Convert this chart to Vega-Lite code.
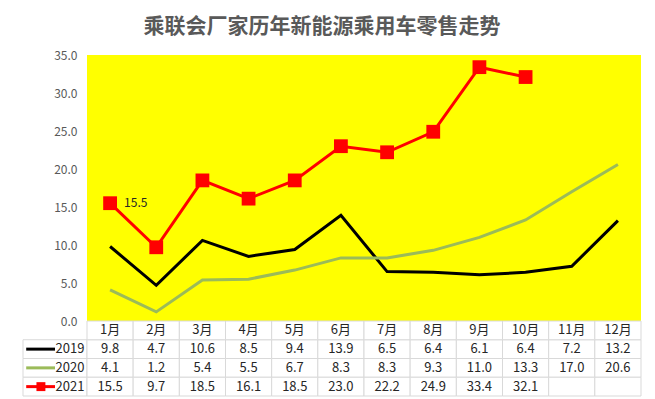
{
  "$schema": "https://vega.github.io/schema/vega-lite/v6.json",
  "padding": {"left": 22, "top": 16, "right": 5, "bottom": 0},
  "title": {"text": "乘联会厂家历年新能源乘用车零售走势", "fontSize": 21, "font": "Noto Sans CJK SC", "fontWeight": "bold", "color": "#595959", "anchor": "middle", "offset": 12, "dx": -10},
  "config": {"view": {"stroke": null}, "font": "Noto Sans CJK SC"},
  "datasets": {
    "sales": [
      {"month": "1月", "year": "2019", "value": 9.8},
      {"month": "2月", "year": "2019", "value": 4.7},
      {"month": "3月", "year": "2019", "value": 10.6},
      {"month": "4月", "year": "2019", "value": 8.5},
      {"month": "5月", "year": "2019", "value": 9.4},
      {"month": "6月", "year": "2019", "value": 13.9},
      {"month": "7月", "year": "2019", "value": 6.5},
      {"month": "8月", "year": "2019", "value": 6.4},
      {"month": "9月", "year": "2019", "value": 6.1},
      {"month": "10月", "year": "2019", "value": 6.4},
      {"month": "11月", "year": "2019", "value": 7.2},
      {"month": "12月", "year": "2019", "value": 13.2},
      {"month": "1月", "year": "2020", "value": 4.1},
      {"month": "2月", "year": "2020", "value": 1.2},
      {"month": "3月", "year": "2020", "value": 5.4},
      {"month": "4月", "year": "2020", "value": 5.5},
      {"month": "5月", "year": "2020", "value": 6.7},
      {"month": "6月", "year": "2020", "value": 8.3},
      {"month": "7月", "year": "2020", "value": 8.3},
      {"month": "8月", "year": "2020", "value": 9.3},
      {"month": "9月", "year": "2020", "value": 11.0},
      {"month": "10月", "year": "2020", "value": 13.3},
      {"month": "11月", "year": "2020", "value": 17.0},
      {"month": "12月", "year": "2020", "value": 20.6},
      {"month": "1月", "year": "2021", "value": 15.5},
      {"month": "2月", "year": "2021", "value": 9.7},
      {"month": "3月", "year": "2021", "value": 18.5},
      {"month": "4月", "year": "2021", "value": 16.1},
      {"month": "5月", "year": "2021", "value": 18.5},
      {"month": "6月", "year": "2021", "value": 23.0},
      {"month": "7月", "year": "2021", "value": 22.2},
      {"month": "8月", "year": "2021", "value": 24.9},
      {"month": "9月", "year": "2021", "value": 33.4},
      {"month": "10月", "year": "2021", "value": 32.1},
      {"month": "11月", "year": "2021", "value": null},
      {"month": "12月", "year": "2021", "value": null}
    ]
  },
  "columns": 2,
  "spacing": 0,
  "bounds": "flush",
  "concat": [
    {
      "width": 64,
      "height": 266,
      "data": {"values": [{"a": 1}]},
      "mark": {"type": "point", "opacity": 0},
      "encoding": {}
    },
    {
      "width": 554,
      "height": 266,
      "view": {"fill": "#FFFF00", "stroke": null},
      "data": {"name": "sales"},
      "encoding": {
        "x": {"field": "month", "type": "ordinal", "sort": ["1月","2月","3月","4月","5月","6月","7月","8月","9月","10月","11月","12月"], "scale": {"type": "point", "padding": 0.5}, "axis": null},
        "y": {"field": "value", "type": "quantitative", "scale": {"domain": [0, 35], "nice": false}, "axis": {"values": [0,5,10,15,20,25,30,35], "format": ".1f", "grid": false, "domain": false, "ticks": false, "labelFontSize": 12, "labelColor": "#595959", "labelPadding": 10, "title": null}},
        "color": {"field": "year", "type": "nominal", "scale": {"domain": ["2019","2020","2021"], "range": ["#000000","#9BBB59","#FF0000"]}, "legend": null}
      },
      "layer": [
        {"mark": {"type": "line", "strokeWidth": 3}},
        {"transform": [{"filter": "datum.year == '2021'"}], "mark": {"type": "square", "size": 190, "opacity": 1, "filled": true}},
        {"transform": [{"filter": "datum.year == '2021' && datum.month == '1月'"}], "mark": {"type": "text", "align": "left", "dx": 14, "fontSize": 12}, "encoding": {"text": {"field": "value", "format": ".1f"}, "color": {"value": "#262626"}}}
      ]
    },
    {
      "width": 64,
      "height": 75,
      "data": {"name": "sales"},
      "transform": [{"filter": "datum.month == '1月'"}],
      "layer": [
        {"mark": {"type": "rect", "fill": "white", "stroke": "#d9d9d9"},
         "encoding": {
           "y": {"field": "year", "type": "nominal", "scale": {"domain": ["header","2019","2020","2021"], "paddingInner": 0, "paddingOuter": 0}, "axis": null},
           "x": {"datum": 0, "type": "quantitative", "scale": {"domain": [0, 1]}, "axis": null},
           "x2": {"datum": 1}}},
        {"mark": {"type": "rule", "strokeWidth": 3},
         "encoding": {
           "y": {"field": "year", "type": "nominal", "bandPosition": 0.5},
           "x": {"datum": 0.05, "type": "quantitative"},
           "x2": {"datum": 0.5},
           "color": {"field": "year", "type": "nominal", "scale": {"domain": ["2019","2020","2021"], "range": ["#000000","#9BBB59","#FF0000"]}, "legend": null}}},
        {"transform": [{"filter": "datum.year == '2021'"}],
         "mark": {"type": "square", "size": 80, "opacity": 1, "filled": true, "color": "#FF0000"},
         "encoding": {
           "y": {"field": "year", "type": "nominal", "bandPosition": 0.5},
           "x": {"datum": 0.28, "type": "quantitative"}}},
        {"mark": {"type": "text", "align": "right", "fontSize": 13, "color": "#262626"},
         "encoding": {
           "y": {"field": "year", "type": "nominal", "bandPosition": 0.5},
           "x": {"datum": 0.96, "type": "quantitative"},
           "text": {"field": "year"}}}
      ]
    },
    {
      "width": 554,
      "height": 75,
      "data": {"name": "sales"},
      "encoding": {
        "x": {"field": "month", "type": "ordinal", "sort": ["1月","2月","3月","4月","5月","6月","7月","8月","9月","10月","11月","12月"], "scale": {"type": "band", "paddingInner": 0, "paddingOuter": 0}, "axis": null},
        "y": {"field": "year", "type": "nominal", "scale": {"domain": ["header","2019","2020","2021"], "paddingInner": 0, "paddingOuter": 0}, "axis": null}
      },
      "layer": [
        {"mark": {"type": "rect", "fill": "white", "stroke": "#d9d9d9"}},
        {"transform": [{"filter": "datum.year == '2019'"}], "mark": {"type": "rect", "fill": "white", "stroke": "#d9d9d9"}, "encoding": {"y": {"datum": "header"}}},
        {"transform": [{"filter": "isValid(datum.value)"}], "mark": {"type": "text", "fontSize": 13, "color": "#262626"}, "encoding": {"text": {"field": "value", "format": ".1f"}}},
        {"transform": [{"filter": "datum.year == '2019'"}], "mark": {"type": "text", "fontSize": 13, "color": "#262626"}, "encoding": {"y": {"datum": "header"}, "text": {"field": "month"}}}
      ]
    }
  ]
}
